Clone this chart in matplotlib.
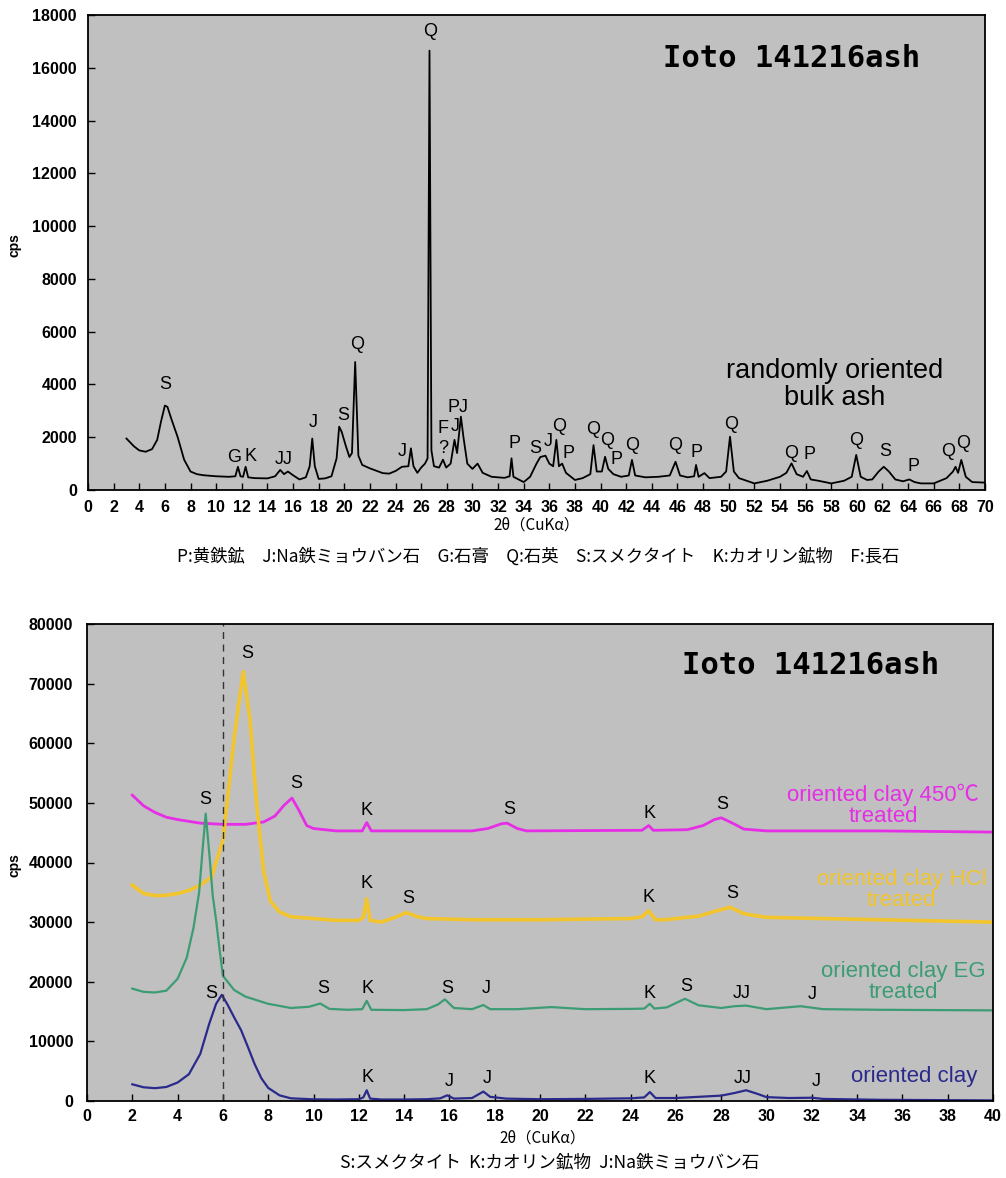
import matplotlib
matplotlib.use("Agg")
import matplotlib.pyplot as plt

# ---- top panel: randomly oriented bulk ash (2theta, cps) ----
bulk_x = [3.0, 3.3, 3.6, 4.0, 4.5, 5.0, 5.4, 5.7, 6.0, 6.2, 6.5, 7.0, 7.5, 8.0, 8.5, 9.0,
          10.0, 11.0, 11.5, 11.7, 11.9, 12.1, 12.3, 12.5, 13.0, 14.0, 14.6, 15.0, 15.3, 15.6,
          16.0, 16.5, 17.0, 17.3, 17.5, 17.7, 18.0, 18.5, 19.0, 19.4, 19.6, 19.8, 20.1, 20.4,
          20.6, 20.85, 21.1, 21.4, 22.0, 23.0, 23.5, 24.0, 24.5, 25.0, 25.2, 25.4, 25.7, 26.0,
          26.3, 26.5, 26.65, 26.8, 27.0, 27.4, 27.7, 27.95, 28.3, 28.6, 28.8, 29.1, 29.3, 29.6,
          30.0, 30.4, 30.8, 31.5, 32.5, 32.9, 33.05, 33.2, 34.0, 34.5, 35.0, 35.3, 35.7, 36.0,
          36.3, 36.55, 36.75, 37.0, 37.3, 38.0, 38.6, 39.2, 39.45, 39.7, 40.1, 40.35, 40.6, 41.0,
          41.6, 42.2, 42.45, 42.7, 43.5, 44.5, 45.4, 45.85, 46.2, 46.8, 47.3, 47.45, 47.65, 48.1,
          48.5, 49.4, 49.8, 50.1, 50.4, 50.8, 52.0, 53.0, 54.0, 54.5, 54.9, 55.3, 55.8, 56.1,
          56.4, 57.0, 58.0, 59.0, 59.6, 59.95, 60.3, 60.8, 61.2, 61.7, 62.1, 62.5, 63.0, 63.6,
          64.1, 64.5, 65.0, 66.0, 67.0, 67.5, 67.7, 67.9, 68.15, 68.5, 69.0, 70.0]
bulk_y = [1950, 1800, 1650, 1500, 1450, 1550, 1900, 2600, 3200, 3150, 2700, 2000, 1150, 700, 600, 560,
          520, 500, 520, 880, 520, 500, 880, 480, 450, 440, 520, 760, 600, 700,
          560, 400, 480, 900, 1950, 900, 420, 440, 520, 1200, 2400, 2200, 1700, 1250,
          1400, 4850, 1300, 950, 820, 640, 620, 720, 880, 900, 1580, 900, 650, 850,
          1000, 1200, 16650, 1500, 900, 850, 1150, 850, 1000, 1900, 1400, 2780, 2000, 1000,
          800, 1000, 650, 500, 460, 520, 1200, 500, 300, 500, 1000, 1250, 1300, 1000,
          900, 1900, 900, 1000, 650, 380, 450, 600, 1700, 700, 700, 1260, 800, 600,
          500, 550, 1140, 550, 480, 500, 550, 1070, 550, 480, 520, 950, 500, 640,
          450, 500, 700, 2020, 700, 450, 250, 350, 500, 650, 1010, 600, 500, 720,
          400, 350, 250, 350, 500, 1330, 500, 380, 400, 700, 880, 700, 400, 330,
          400, 300, 250, 250, 450, 700, 880, 650, 1140, 500, 300, 280]

bulk_lbl = ["S", "G", "K", "JJ", "J", "S", "Q", "J", "Q", "F", "?", "J", "PJ", "P", "S", "J", "Q", "P",
            "Q", "Q", "P", "Q", "Q", "P", "Q", "Q", "P", "Q", "S", "P", "Q", "Q"]
bulk_lbl_x = [6.0, 11.4, 12.65, 15.3, 17.6, 19.9, 20.97, 24.5, 26.7, 27.74, 27.74, 28.65, 28.9, 33.3,
              34.9, 35.9, 36.77, 37.5, 39.45, 40.5, 41.26, 42.44, 45.8, 47.5, 50.2, 54.9, 56.3,
              59.95, 62.2, 64.4, 67.1, 68.3]
bulk_lbl_y = [3980, 1230, 1260, 1140, 2550, 2840, 5500, 1450, 17370, 2340, 1580, 2400, 3130, 1745,
              1580, 1830, 2425, 1390, 2275, 1870, 1140, 1705, 1705, 1415, 2500, 1390, 1330,
              1870, 1450, 885, 1450, 1745]

# ---- bottom panel: oriented clay fractions ----
clay_x = [2.0, 2.5, 3.0, 3.5, 4.0, 4.5, 5.0, 5.4, 5.7, 5.95, 6.2, 6.5, 6.8, 7.1, 7.4, 7.7, 8.0, 8.5,
          9.0, 10.0, 11.0, 12.0, 12.2, 12.35, 12.5, 13.0, 14.0, 15.0, 15.6, 15.9, 16.2, 17.0,
          17.5, 17.8, 18.5, 20.0, 22.0, 24.0, 24.6, 24.85, 25.1, 26.0, 27.0, 28.0, 28.6, 29.1,
          29.6, 30.0, 31.0, 32.0, 32.5, 35.0, 40.0]
clay_y = [2800, 2300, 2150, 2350, 3100, 4500, 7900, 13000, 16300, 17800, 16200, 14000, 11900, 9100,
          6200, 3800, 2200, 950, 450, 280, 250, 300, 600, 1800, 400, 250, 250, 300, 450, 950, 400,
          500, 1580, 700, 400, 300, 350, 450, 600, 1500, 500, 500, 700, 900, 1350, 1800, 1200,
          650, 500, 550, 350, 200, 100]

eg_x = [2.0, 2.5, 3.0, 3.5, 4.0, 4.4, 4.7, 4.95, 5.1, 5.24, 5.4, 5.55, 5.7, 5.85, 6.0, 6.5, 7.0,
        8.0, 9.0, 9.8, 10.3, 10.7, 11.5, 12.15, 12.35, 12.55, 14.0, 15.0, 15.5, 15.8, 16.2,
        17.0, 17.5, 17.8, 19.0, 20.5, 22.0, 24.0, 24.6, 24.85, 25.05, 25.6, 26.4, 27.0, 28.0,
        28.6, 29.1, 30.0, 31.5, 32.5, 35.0, 40.0]
eg_y = [18850, 18300, 18200, 18500, 20500, 24000, 29000, 35000, 42000, 48200, 41500, 34500, 30300,
        25500, 21000, 18600, 17500, 16300, 15600, 15800, 16350, 15450, 15300, 15400, 16800,
        15300, 15250, 15400, 16200, 17050, 15600, 15400, 16100, 15400, 15400, 15750, 15400,
        15450, 15500, 16300, 15500, 15700, 17150, 16050, 15600, 15900, 16000, 15400, 15900,
        15400, 15300, 15200]

hcl_x = [2.0, 2.5, 3.0, 3.5, 4.0, 4.5, 5.0, 5.5, 6.0, 6.5, 6.9, 7.2, 7.5, 7.8, 8.1, 8.5, 9.0,
         10.0, 11.0, 12.0, 12.2, 12.35, 12.5, 13.0, 13.6, 14.1, 14.6, 15.0, 17.0, 20.0, 24.0,
         24.5, 24.8, 25.1, 25.5, 27.0, 27.8, 28.4, 29.0, 30.0, 35.0, 40.0]
hcl_y = [36200, 34800, 34450, 34500, 34800, 35300, 36200, 37600, 43700, 61000, 72000, 63800,
         49300, 38500, 33500, 31700, 30900, 30600, 30300, 30300, 30800, 33900, 30300, 30000,
         30800, 31600, 30900, 30600, 30400, 30400, 30600, 30900, 31900, 30400, 30400, 31000,
         31900, 32500, 31400, 30800, 30400, 30000]

heat_x = [2.0, 2.5, 3.0, 3.5, 4.0, 5.0, 6.0, 7.0, 7.8, 8.3, 8.7, 9.05, 9.35, 9.7, 10.0, 11.0,
          12.15, 12.35, 12.55, 17.0, 17.7, 18.3, 18.55, 19.0, 19.4, 24.5, 24.8, 25.0, 26.5,
          27.2, 27.7, 28.0, 28.5, 29.0, 30.0, 35.0, 40.0]
heat_y = [51300, 49500, 48400, 47600, 47200, 46600, 46400, 46400, 46800, 47800, 49600, 50800,
          48800, 46200, 45700, 45300, 45300, 46700, 45300, 45300, 45700, 46500, 46600, 45700,
          45300, 45400, 46200, 45400, 45500, 46200, 47200, 47500, 46600, 45600, 45300, 45300,
          45100]

clay_lbl = ["S", "S", "S", "K", "K", "S", "S", "K", "S", "K", "S",
            "S", "K", "S", "J", "K", "S", "JJ", "J",
            "S", "K", "J", "J", "K", "JJ", "J"]
clay_lbl_x = [7.07, 9.24, 5.24, 12.32, 12.32, 14.16, 18.66, 24.83, 28.03, 24.79, 28.5,
              10.43, 12.37, 15.9, 17.62, 24.82, 26.44, 28.9, 32.04,
              5.49, 12.37, 15.97, 17.66, 24.82, 28.94, 32.2]
clay_lbl_y = [75030, 53330, 50600, 48750, 36460, 33940, 48870, 48300, 49700, 34210, 34880,
              18850, 18850, 18850, 18850, 18110, 19120, 18010, 17890,
              18010, 3920, 3190, 3750, 3750, 3750, 3190]

series_names = ["oriented clay 450\u2103\ntreated", "oriented clay HCl\ntreated",
                "oriented clay EG\ntreated", "oriented clay"]
series_colors = ["#E62EE6", "#F2C52E", "#3C9C74", "#2A2A8C"]
name_x = [35.16, 35.97, 36.03, 36.5]
name_y = [49600, 35350, 19900, 4030]

cap_top = "P:黄鉄鉱\u3000J:Na鉄ミョウバン石\u3000G:石膏\u3000Q:石英\u3000S:スメクタイト\u3000K:カオリン鉱物\u3000F:長石"
cap_bot = "S:スメクタイト  K:カオリン鉱物  J:Na鉄ミョウバン石"
x_title = "2θ（CuKα）"

latin = ["Liberation Sans", "Noto Sans CJK JP", "DejaVu Sans"]
jp = ["Noto Sans CJK JP", "DejaVu Sans"]
plt.rcParams["font.family"] = latin

fig = plt.figure(figsize=(10.06, 11.78), dpi=100)
W, H = 1006, 1178

def style(ax):
    ax.set_facecolor("#C0C0C0")
    for s in ax.spines.values():
        s.set_linewidth(1.3)
        s.set_color("black")
    ax.tick_params(direction="in", length=5, width=1, labelsize=11.5)
    for t in ax.get_xticklabels() + ax.get_yticklabels():
        t.set_fontweight("bold")

# top axes
ax1 = fig.add_axes([88 / W, 1 - 490 / H, (985 - 88) / W, (490 - 15) / H])
ax1.plot(bulk_x, bulk_y, color="black", lw=1.3)
ax1.set_xlim(0, 70)
ax1.set_ylim(0, 18000)
ax1.set_xticks(range(0, 71, 2))
ax1.set_yticks(range(0, 18001, 2000))
style(ax1)
ax1.tick_params(axis="y", pad=8)
ax1.tick_params(axis="x", pad=7)
for t, x, y in zip(bulk_lbl, bulk_lbl_x, bulk_lbl_y):
    ax1.text(x, y, t, ha="center", va="center", fontsize=13)
ax1.text(54.9, 16370, "Ioto 141216ash", ha="center", va="center", fontsize=22,
         family="DejaVu Sans Mono", fontweight="bold")
ax1.text(58.3, 3980, "randomly oriented\nbulk ash", ha="center", va="center",
         fontsize=19.5, linespacing=1.05)
fig.text(15 / W, 1 - 245 / H, "cps", rotation=90, ha="center", va="center",
         fontsize=10, fontweight="bold")
fig.text(537 / W, 1 - 525 / H, x_title, ha="center", va="center", fontsize=11, family=jp)
fig.text(538 / W, 1 - 557 / H, cap_top, ha="center", va="center", fontsize=12.5, family=jp)

# bottom axes
ax2 = fig.add_axes([87 / W, 1 - 1101 / H, (993 - 87) / W, (1101 - 624) / H])
ax2.plot(heat_x, heat_y, color=series_colors[0], lw=2)
ax2.plot(hcl_x, hcl_y, color=series_colors[1], lw=2.6)
ax2.plot(eg_x, eg_y, color=series_colors[2], lw=1.6)
ax2.plot(clay_x, clay_y, color=series_colors[3], lw=1.6)
ax2.axvline(6, color="#333333", lw=1, ls=(0, (5, 4)))
ax2.set_xlim(0, 40)
ax2.set_ylim(0, 80000)
ax2.set_xticks(range(0, 41, 2))
ax2.set_yticks(range(0, 80001, 10000))
style(ax2)
ax2.tick_params(axis="y", pad=10)
ax2.tick_params(axis="x", pad=6)
for t, x, y in zip(clay_lbl, clay_lbl_x, clay_lbl_y):
    ax2.text(x, y, t, ha="center", va="center", fontsize=13)
for name, c, x, y in zip(series_names, series_colors, name_x, name_y):
    ax2.text(x, y, name, ha="center", va="center", fontsize=16, color=c, linespacing=1.0)
ax2.text(31.96, 73070, "Ioto 141216ash", ha="center", va="center", fontsize=22,
         family="DejaVu Sans Mono", fontweight="bold")
fig.text(15 / W, 1 - 865 / H, "cps", rotation=90, ha="center", va="center",
         fontsize=10, fontweight="bold")
fig.text(542 / W, 1 - 1138 / H, x_title, ha="center", va="center", fontsize=11, family=jp)
fig.text(550 / W, 1 - 1162 / H, cap_bot, ha="center", va="center", fontsize=12.7, family=jp)

fig.savefig("out.png", dpi=100, facecolor="white")
